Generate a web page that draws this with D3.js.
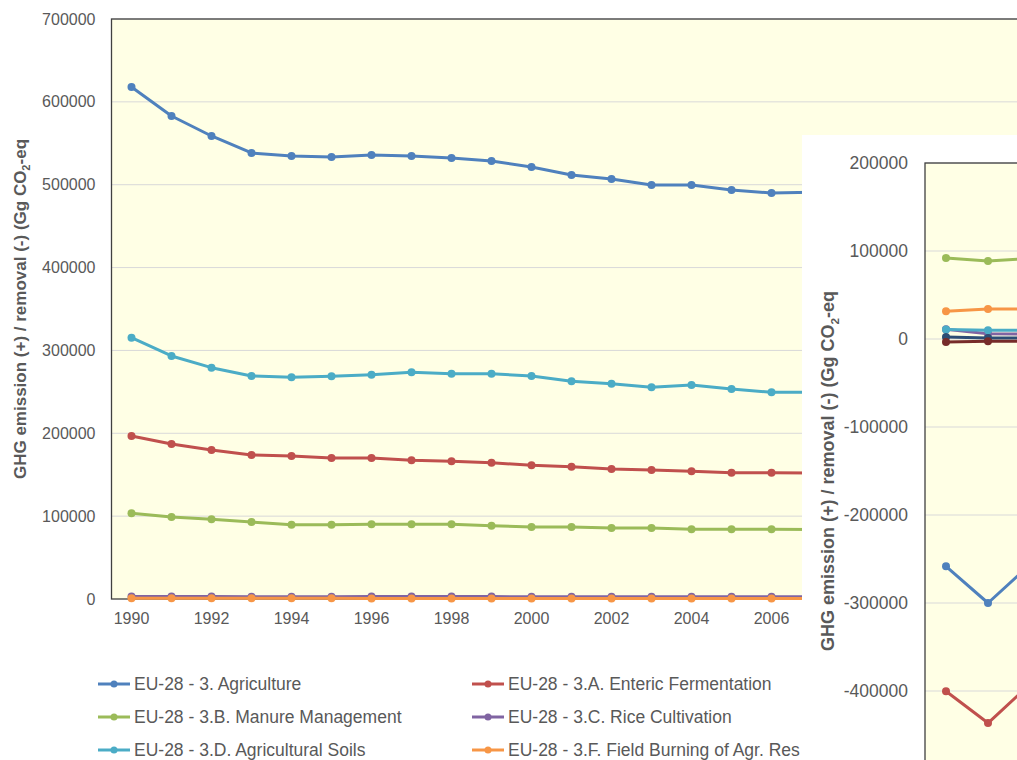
<!DOCTYPE html>
<html>
<head>
<meta charset="utf-8">
<script src="https://cdn.jsdelivr.net/npm/d3@7"></script>
<style>
  body { margin: 0; background: #fff; }
  svg { display: block; font-family: "Liberation Sans", Arial, sans-serif; }
</style>
</head>
<body>
<svg id="chart"></svg>
<script>
// categories (year axis of both charts)
const years = [1990, 1991, 1992, 1993, 1994, 1995, 1996, 1997, 1998, 1999, 2000, 2001, 2002,
  2003, 2004, 2005, 2006, 2007, 2008, 2009, 2010, 2011, 2012, 2013, 2014, 2015];
// only the labels that are not hidden behind the inset chart
const yearTicks = [1990, 1992, 1994, 1996, 1998, 2000, 2002, 2004, 2006];

// main chart: agriculture (Gg CO2-eq), visible years 1990-2007
const agriNames = ['EU-28 - 3. Agriculture', 'EU-28 - 3.A. Enteric Fermentation',
  'EU-28 - 3.B. Manure Management', 'EU-28 - 3.C. Rice Cultivation',
  'EU-28 - 3.D. Agricultural Soils', 'EU-28 - 3.F. Field Burning of Agr. Res'];
const agriculture = [617900, 582900, 558800, 538300, 534700, 533400, 535900, 534700, 532200,
  528600, 521400, 511700, 506900, 499700, 499700, 493600, 490000, 491000];
const enteric = [196700, 187100, 179800, 173800, 172600, 170300, 170300, 167400, 166200,
  164500, 161400, 159700, 156900, 155700, 154100, 152400, 152400, 152000];
const manure = [103400, 99000, 96200, 92900, 89700, 89700, 90100, 90100, 90100,
  88500, 86900, 86900, 85700, 85700, 84100, 84100, 84100, 84000];
const rice = [3000, 2900, 2900, 2800, 2800, 2800, 2900, 2900, 2900,
  2900, 2800, 2800, 2800, 2700, 2700, 2700, 2700, 2700];
const soils = [315400, 293300, 279200, 269100, 267600, 268800, 270700, 273600, 271900,
  271900, 269100, 262700, 259800, 255500, 258300, 253400, 249500, 249500];
const burning = [900, 850, 850, 800, 800, 800, 750, 750, 750,
  700, 700, 700, 650, 650, 650, 600, 600, 600];
const agriTicks = [0, 100000, 200000, 300000, 400000, 500000, 600000, 700000];

// inset chart: LULUCF (Gg CO2-eq), only the first years are visible
const luNames = ['EU-28 - 4. LULUCF', 'EU-28 - 4.A. Forest Land', 'EU-28 - 4.B. Cropland',
  'EU-28 - 4.C. Grassland', 'EU-28 - 4.D. Wetlands', 'EU-28 - 4.E. Settlements',
  'EU-28 - 4.F. Other Land', 'EU-28 - 4.G. Harvested Wood Products'];
const luTotal = [-258300, -300000, -256500];
const luForest = [-400300, -436400, -392400];
const luCrop = [92000, 88600, 91700];
const luGrass = [11000, 6000, 5500];
const luWet = [10700, 9900, 9800];
const luSettle = [31500, 34100, 34000];
const luOther = [2300, 1100, 1000];
const luHwp = [-3400, -2600, -2500];
const luGrid = [-500000, -400000, -300000, -200000, -100000, 0, 100000, 200000];
const luTicks = [-400000, -300000, -200000, -100000, 0, 100000, 200000];

const colors = ['#4F81BD', '#C0504D', '#9BBB59', '#8064A2', '#4BACC6', '#F79646', '#2C4D75', '#772C2A'];

const W = 1017, H = 760;
const svg = d3.select('#chart').attr('width', W).attr('height', H);
const textGrey = '#595959';
const titleParts = ['GHG emission (+) / removal (-) (Gg CO', '2', '-eq'];

function yTitle(g, x, y, size) {
  const t = g.append('text')
    .attr('transform', `translate(${x},${y}) rotate(-90)`)
    .attr('text-anchor', 'middle')
    .attr('dominant-baseline', 'central')
    .attr('fill', textGrey)
    .style('font-size', size + 'px')
    .style('font-weight', 'bold');
  t.append('tspan').text(titleParts[0]);
  t.append('tspan').text(titleParts[1]).attr('baseline-shift', 'sub').style('font-size', (size * 0.65) + 'px');
  t.append('tspan').text(titleParts[2]);
}

function drawSeries(g, x, y, list, r) {
  list.forEach(s => {
    const pts = s.values.map((v, i) => [x(years[i]) + x.bandwidth() / 2, y(v)]);
    g.append('path')
      .attr('d', d3.line()(pts))
      .attr('fill', 'none')
      .attr('stroke', s.color)
      .attr('stroke-width', 3)
      .attr('stroke-linejoin', 'round');
    g.selectAll(null).data(pts).enter().append('circle')
      .attr('cx', d => d[0]).attr('cy', d => d[1]).attr('r', r)
      .attr('fill', s.color);
  });
}

// ---------- main chart ----------
const mLeft = 111.5, mTop = 19, mBottom = 599;
const xMain = d3.scaleBand().domain(years).range([mLeft, mLeft + years.length * 40]).padding(0);
const yMain = d3.scaleLinear().domain([0, 700000]).range([mBottom, mTop]);

const main = svg.append('g');
main.append('rect')
  .attr('x', mLeft).attr('y', mTop)
  .attr('width', years.length * 40).attr('height', mBottom - mTop)
  .attr('fill', '#FFFFE5');

const yAxisMain = d3.axisLeft(yMain).tickValues(agriTicks).tickSize(0).tickPadding(16).tickFormat(d => String(d));
main.append('g').attr('transform', `translate(${mLeft},0)`).call(yAxisMain)
  .call(g => g.select('.domain').remove())
  .call(g => g.selectAll('text').attr('fill', textGrey).style('font-size', '16px'));

main.append('g').selectAll('line').data(agriTicks.filter(d => d > 0)).enter().append('line')
  .attr('x1', mLeft).attr('x2', mLeft + years.length * 40)
  .attr('y1', d => yMain(d)).attr('y2', d => yMain(d))
  .attr('stroke', '#D9D9D9').attr('stroke-width', 1);

const xAxisMain = d3.axisBottom(xMain).tickValues(yearTicks).tickSize(0).tickPadding(14);
main.append('g').attr('transform', `translate(0,${mBottom})`).call(xAxisMain)
  .call(g => g.select('.domain').remove())
  .call(g => g.selectAll('text').attr('fill', textGrey).style('font-size', '16px'));

main.append('rect')
  .attr('x', mLeft).attr('y', mTop)
  .attr('width', years.length * 40).attr('height', mBottom - mTop)
  .attr('fill', 'none').attr('stroke', '#404040').attr('stroke-width', 1.3);

const agriSeries = [agriculture, enteric, manure, rice, soils, burning]
  .map((v, i) => ({ name: agriNames[i], values: v, color: colors[i] }));
drawSeries(main, xMain, yMain, agriSeries, 4);

yTitle(main, 20, (mTop + mBottom) / 2, 17);

// legend
const legend = main.append('g');
agriSeries.forEach((s, i) => {
  const col = i % 2, row = Math.floor(i / 2);
  const lx = col === 0 ? 98 : 472;
  const ly = 684 + row * 33;
  const item = legend.append('g').attr('transform', `translate(${lx},${ly})`);
  item.append('line').attr('x1', 0).attr('x2', 32).attr('stroke', s.color).attr('stroke-width', 3);
  item.append('circle').attr('cx', 16).attr('r', 3.5).attr('fill', s.color);
  item.append('text').attr('x', 36).attr('dy', '0.35em')
    .attr('fill', textGrey).style('font-size', '17.5px').text(s.name);
});

// ---------- inset chart ----------
const iLeft = 925, iTop = 163, iBottom = 779;
const inset = svg.append('g');
inset.append('rect').attr('x', 802).attr('y', 135).attr('width', W - 802).attr('height', H - 135).attr('fill', '#fff');

const xIn = d3.scaleBand().domain(years).range([iLeft, iLeft + years.length * 42]).padding(0);
const yIn = d3.scaleLinear().domain([-500000, 200000]).range([iBottom, iTop]);

inset.append('rect')
  .attr('x', iLeft).attr('y', iTop).attr('width', years.length * 42).attr('height', iBottom - iTop)
  .attr('fill', '#FFFFE5');

inset.append('g').selectAll('line').data(luGrid).enter().append('line')
  .attr('x1', iLeft).attr('x2', iLeft + years.length * 42)
  .attr('y1', d => yIn(d)).attr('y2', d => yIn(d))
  .attr('stroke', '#D9D9D9').attr('stroke-width', 1);

const yAxisIn = d3.axisLeft(yIn).tickValues(luTicks).tickSize(0).tickPadding(17).tickFormat(d => String(d));
inset.append('g').attr('transform', `translate(${iLeft},0)`).call(yAxisIn)
  .call(g => g.select('.domain').remove())
  .call(g => g.selectAll('text').attr('fill', textGrey).style('font-size', '17.5px'));

inset.append('rect')
  .attr('x', iLeft).attr('y', iTop).attr('width', years.length * 42).attr('height', iBottom - iTop)
  .attr('fill', 'none').attr('stroke', '#404040').attr('stroke-width', 1.3);

const luSeries = [luTotal, luForest, luCrop, luGrass, luWet, luSettle, luOther, luHwp]
  .map((v, i) => ({ name: luNames[i], values: v, color: colors[i] }));
drawSeries(inset, xIn, yIn, luSeries, 4);

yTitle(inset, 828, (iTop + iBottom) / 2, 18);
</script>
</body>
</html>
